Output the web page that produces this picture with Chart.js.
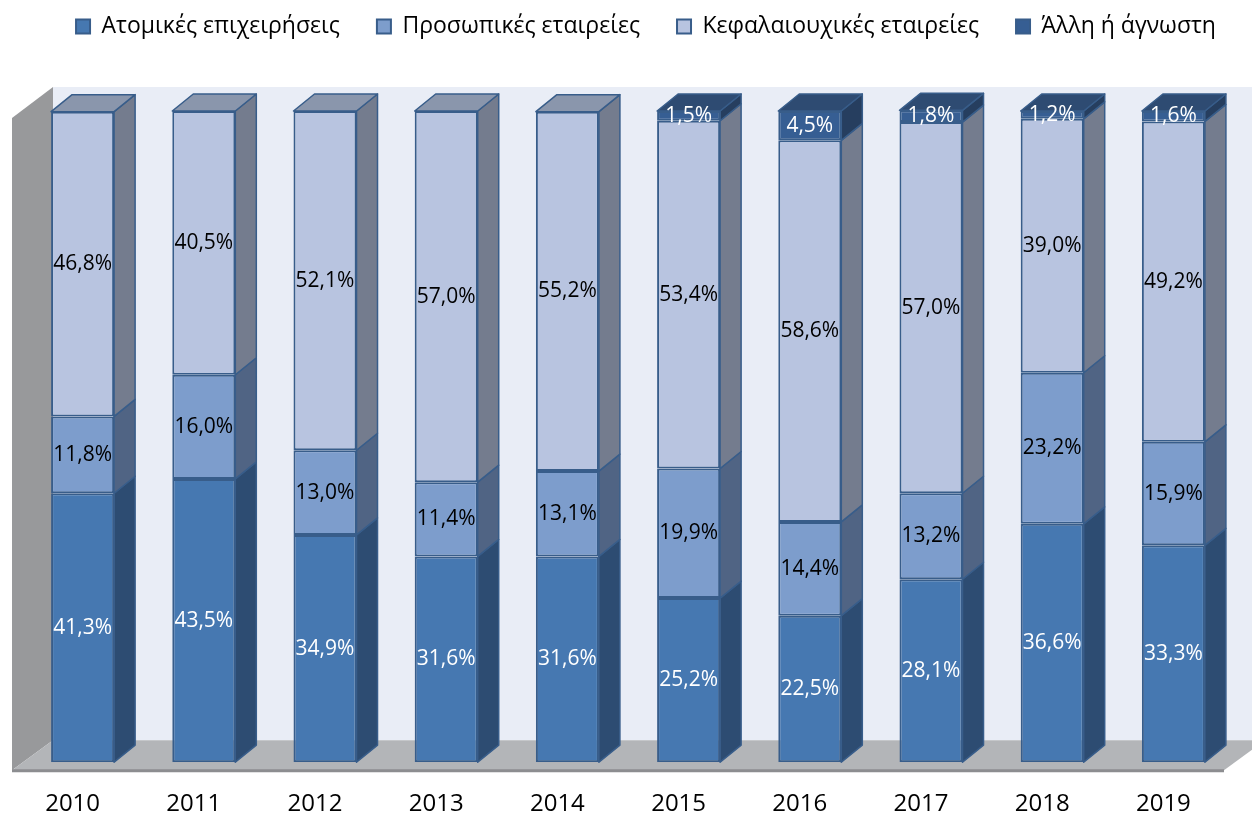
<!DOCTYPE html>
<html>
<head>
<meta charset="utf-8">
<script src="https://cdn.jsdelivr.net/npm/chart.js@4"></script>
<style>
  html, body { margin: 0; padding: 0; background: #fff; }
  #wrap { width: 1252px; height: 816px; }
</style>
</head>
<body>
<div id="wrap"><canvas id="grafico"></canvas></div>
<script>
// datos
const years = ['2010', '2011', '2012', '2013', '2014', '2015', '2016', '2017', '2018', '2019'];
const atomikes = [41.3, 43.5, 34.9, 31.6, 31.6, 25.2, 22.5, 28.1, 36.6, 33.3];
const prosopikes = [11.8, 16.0, 13.0, 11.4, 13.1, 19.9, 14.4, 13.2, 23.2, 15.9];
const kefalaiouxikes = [46.8, 40.5, 52.1, 57.0, 55.2, 53.4, 58.6, 57.0, 39.0, 49.2];
const alli = [null, null, null, null, null, 1.5, 4.5, 1.8, 1.2, 1.6];

const frontColors = ['#4678B1', '#7D9DCC', '#B8C4E0', '#365E93'];
const sideColors = ['#2D4C72', '#506484', '#747C8E', '#263E5F'];
const topColors = ['#3A6294', '#6A84AE', '#8A96AC', '#2E4B72'];
const labelColors = ['#fff', '#000', '#000', '#fff'];
const edge = '#385D8A';
const dx = 21, dy = -17; // profundidad de las barras

const fmt = v => v.toFixed(1).replace('.', ',') + '%';

function poly(ctx, pts, fill) {
    ctx.beginPath();
    ctx.moveTo(pts[0][0], pts[0][1]);
    for (let k = 1; k < pts.length; k++) ctx.lineTo(pts[k][0], pts[k][1]);
    ctx.closePath();
    ctx.fillStyle = fill;
    ctx.fill();
}

// paredes y suelo 3D
const paredes = {
    id: 'paredes',
    beforeDatasetsDraw(chart) {
        const { ctx, chartArea: a } = chart;
        const W = chart.width;
        ctx.save();
        // pared del fondo
        ctx.fillStyle = '#E9EDF6';
        ctx.fillRect(a.left + 31, a.top - 24, W - a.left - 31, a.bottom - a.top + 2);
        // pared izquierda
        poly(ctx, [[a.left - 10, a.top + 7], [a.left + 31, a.top - 24], [a.left + 31, a.bottom - 22], [a.left - 10, a.bottom + 8]], '#98999B');
        // suelo
        poly(ctx, [[a.left - 10, a.bottom + 8], [a.left + 31, a.bottom - 22], [a.right + 31, a.bottom - 22], [a.right - 10, a.bottom + 8]], '#B3B5B8');
        ctx.strokeStyle = '#8C8D90';
        ctx.lineWidth = 3;
        ctx.beginPath();
        ctx.moveTo(a.left - 10, a.bottom + 8.5);
        ctx.lineTo(a.right - 10, a.bottom + 8.5);
        ctx.stroke();
        ctx.restore();
    }
};

// caras laterales, tapas y etiquetas
const barras3d = {
    id: 'barras3d',
    afterDatasetsDraw(chart) {
        const ctx = chart.ctx;
        ctx.save();
        ctx.strokeStyle = edge;
        ctx.lineWidth = 1.5;
        ctx.lineJoin = 'round';
        for (let i = 0; i < chart.data.labels.length; i++) {
            let tope = null;
            chart.data.datasets.forEach((ds, d) => {
                const el = chart.getDatasetMeta(d).data[i];
                if (ds.data[i] == null || !el) return;
                const p = el.getProps(['x', 'y', 'base', 'width'], true);
                const r = p.x + p.width / 2;
                poly(ctx, [[r, p.y], [r + dx, p.y + dy], [r + dx, p.base + dy], [r, p.base]], sideColors[d]);
                ctx.stroke();
                tope = { p: p, d: d };
            });
            if (tope) {
                const p = tope.p;
                const l = p.x - p.width / 2, r = p.x + p.width / 2;
                poly(ctx, [[l, p.y], [l + dx, p.y + dy], [r + dx, p.y + dy], [r, p.y]], topColors[tope.d]);
                ctx.stroke();
            }
        }
        // etiquetas
        ctx.font = '21px "Open Sans"';
        ctx.textAlign = 'center';
        ctx.textBaseline = 'middle';
        chart.data.datasets.forEach((ds, d) => {
            chart.getDatasetMeta(d).data.forEach((el, i) => {
                if (ds.data[i] == null) return;
                const p = el.getProps(['x', 'y', 'base'], true);
                ctx.fillStyle = labelColors[d];
                ctx.fillText(fmt(ds.data[i]), p.x, (p.y + p.base) / 2);
            });
        });
        ctx.restore();
    }
};

// leyenda en una sola fila, con hueco debajo
const huecoLeyenda = {
    id: 'huecoLeyenda',
    beforeInit(chart) {
        const fitOrig = chart.legend.fit;
        chart.legend.fit = function() {
            const mw = this.maxWidth;
            this.maxWidth = mw + 80;
            fitOrig.call(this);
            this.maxWidth = mw;
            this.width = Math.min(this.width, mw);
            this.height += 63;
        };
    },
    afterLayout(chart) {
        chart.legend.left = 0;
        chart.legend.right = chart.width + 40;
    }
};

function serie(label, data, d) {
    return {
        label: label,
        data: data,
        backgroundColor: frontColors[d],
        borderColor: edge,
        borderWidth: 2,
        borderSkipped: false,
        categoryPercentage: 1,
        barPercentage: 0.52
    };
}

const grafico = new Chart(document.getElementById('grafico'), {
    type: 'bar',
    data: {
        labels: years,
        datasets: [
            serie('Ατομικές επιχειρήσεις', atomikes, 0),
            serie('Προσωπικές εταιρείες', prosopikes, 1),
            serie('Κεφαλαιουχικές εταιρείες', kefalaiouxikes, 2),
            serie('Άλλη ή άγνωστη', alli, 3)
        ]
    },
    options: {
        responsive: true,
        maintainAspectRatio: false,
        animation: false,
        layout: {
            padding: { left: 22, right: 18, top: -22, bottom: -31 }
        },
        plugins: {
            legend: {
                position: 'top',
                labels: {
                    color: '#000',
                    font: { family: 'Open Sans', size: 23 },
                    boxWidth: 14,
                    boxHeight: 14,
                    padding: 37
                }
            },
            tooltip: { enabled: false }
        },
        scales: {
            x: {
                stacked: true,
                grid: { display: false, drawTicks: false },
                border: { display: false },
                ticks: {
                    color: '#000',
                    font: { family: 'Open Sans', size: 24 },
                    labelOffset: -10,
                    padding: 28
                }
            },
            y: {
                stacked: true,
                display: false,
                min: 0,
                max: 100
            }
        }
    },
    plugins: [paredes, barras3d, huecoLeyenda]
});
</script>
</body>
</html>
